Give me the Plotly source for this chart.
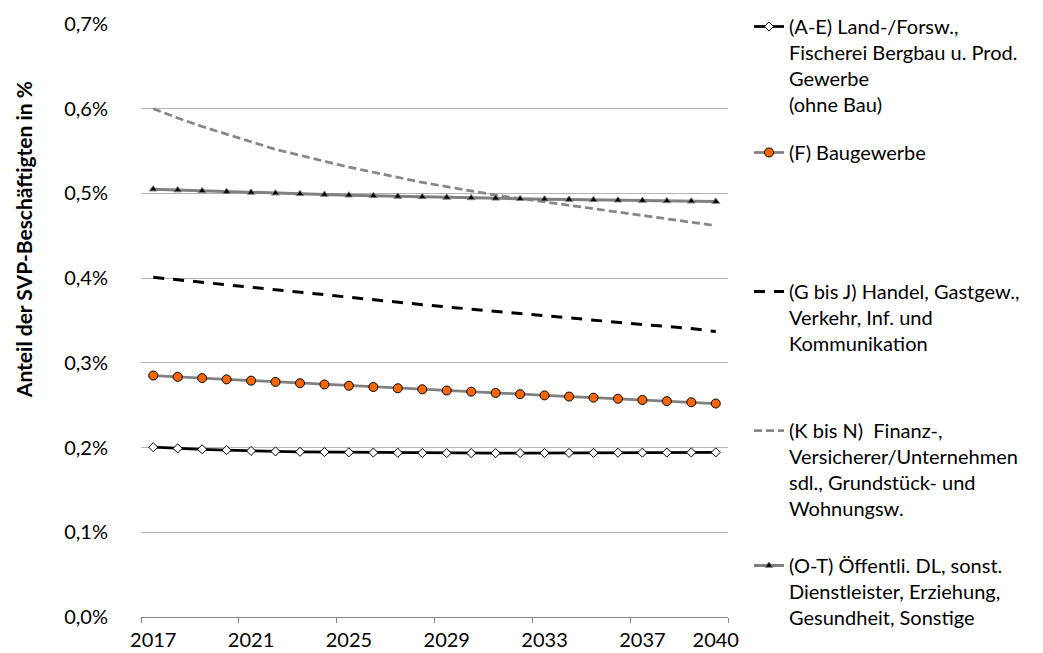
import plotly.graph_objects as go

# Jahre der Projektion
years = list(range(2017, 2041))

# Anteil der SVP-Beschäftigten in % je Wirtschaftsbereich
ae_land_prod = [0.2005, 0.1990, 0.1980, 0.1970, 0.1960, 0.1955, 0.1950, 0.1947,
                0.1944, 0.1941, 0.1938, 0.1936, 0.1935, 0.1935, 0.1935, 0.1935,
                0.1936, 0.1937, 0.1938, 0.1939, 0.1940, 0.1941, 0.1942, 0.1943]
f_bau = [0.2850, 0.2835, 0.2820, 0.2805, 0.2790, 0.2775, 0.2760, 0.2745,
         0.2730, 0.2715, 0.2700, 0.2688, 0.2674, 0.2660, 0.2645, 0.2630,
         0.2616, 0.2602, 0.2589, 0.2576, 0.2562, 0.2548, 0.2535, 0.2520]
gj_handel = [0.4010, 0.3980, 0.3950, 0.3920, 0.3890, 0.3860, 0.3830, 0.3800,
             0.3770, 0.3742, 0.3714, 0.3687, 0.3660, 0.3633, 0.3606, 0.3580,
             0.3554, 0.3528, 0.3503, 0.3478, 0.3453, 0.3429, 0.3405, 0.3370]
kn_finanz = [0.600, 0.589, 0.579, 0.570, 0.561, 0.552, 0.545, 0.538,
             0.531, 0.525, 0.519, 0.513, 0.508, 0.503, 0.498, 0.494,
             0.490, 0.486, 0.482, 0.478, 0.474, 0.470, 0.466, 0.462]
ot_oeffentl = [0.5050, 0.5040, 0.5030, 0.5021, 0.5012, 0.5003, 0.4995, 0.4987,
               0.4979, 0.4972, 0.4965, 0.4959, 0.4953, 0.4947, 0.4942, 0.4937,
               0.4932, 0.4928, 0.4924, 0.4920, 0.4916, 0.4912, 0.4908, 0.4904]

# Achsenbeschriftungen
x_tick_years = [2017, 2021, 2025, 2029, 2033, 2037, 2040]
x_tick_marks = [2016.5, 2020.5, 2024.5, 2028.5, 2032.5, 2036.5, 2040.5]
y_ticks = [0.0, 0.1, 0.2, 0.3, 0.4, 0.5, 0.6, 0.7]
y_tick_labels = ["0,0%", "0,1%", "0,2%", "0,3%", "0,4%", "0,5%", "0,6%", "0,7%"]

names = [
    "(A-E) Land-/Forsw.,<br>Fischerei Bergbau u. Prod.<br>Gewerbe<br>(ohne Bau)",
    "(F) Baugewerbe",
    "(G bis J) Handel, Gastgew.,<br>Verkehr, Inf. und<br>Kommunikation",
    "(K bis N) \u00a0Finanz-,<br>Versicherer/Unternehmen<br>sdl., Grundstück- und<br>Wohnungsw.",
    "(O-T) Öffentli. DL, sonst.<br>Dienstleister, Erziehung,<br>Gesundheit, Sonstige",
]

FONT = "Lato"
W, H = 1043, 653

fig = go.Figure()

fig.add_trace(go.Scatter(
    x=years, y=ae_land_prod, name=names[0], mode="lines+markers", legend="legend",
    line=dict(color="#000000", width=2.75),
    marker=dict(symbol="diamond", size=7, color="#ffffff", line=dict(color="#000000", width=1)),
))
fig.add_trace(go.Scatter(
    x=years, y=f_bau, name=names[1], mode="lines+markers", legend="legend2",
    line=dict(color="#808080", width=2.75),
    marker=dict(symbol="circle", size=9, color="#ff6600", line=dict(color="#000000", width=1)),
))
fig.add_trace(go.Scatter(
    x=years, y=gj_handel, name=names[2], mode="lines", legend="legend3",
    line=dict(color="#000000", width=3, dash="11px,9px"),
))
fig.add_trace(go.Scatter(
    x=years, y=kn_finanz, name=names[3], mode="lines", legend="legend4",
    line=dict(color="#878787", width=2.75, dash="8px,4px"),
))
fig.add_trace(go.Scatter(
    x=years, y=ot_oeffentl, name=names[4], mode="lines+markers", legend="legend5",
    line=dict(color="#808080", width=3),
    marker=dict(symbol="triangle-up", size=7, color="#000000", line=dict(color="#808080", width=1)),
))

# invisible trace carrying the category tick marks on the overlay axis
fig.add_trace(go.Scatter(x=[years[0]], y=[None], xaxis="x2", showlegend=False, hoverinfo="skip"))

def legend_at(top_px):
    return dict(
        xref="container", yref="container", x=749 / W, y=1 - top_px / H,
        xanchor="left", yanchor="top", valign="top",
        font=dict(family=FONT, size=20, color="#000000"),
        bgcolor="rgba(0,0,0,0)", borderwidth=0, itemwidth=30,
        tracegroupgap=0,
    )

fig.update_layout(
    width=W, height=H,
    margin=dict(l=141, r=W - 728, t=24, b=36, autoexpand=False),
    paper_bgcolor="#ffffff", plot_bgcolor="#ffffff",
    font=dict(family=FONT, size=20, color="#000000"),
    showlegend=True,
    legend=legend_at(7),
    legend2=legend_at(133),
    legend3=legend_at(272),
    legend4=legend_at(411),
    legend5=legend_at(546),
    xaxis=dict(
        range=[2016.5, 2040.5], tickmode="array", tickvals=x_tick_years,
        ticktext=[str(v) for v in x_tick_years], ticks="", showgrid=False,
        showline=True, linecolor="#868686", linewidth=1, zeroline=False,
        ticklabelstandoff=5, automargin=False,
        tickfont=dict(family=FONT, size=20, color="#000000"),
    ),
    xaxis2=dict(
        range=[2016.5, 2040.5], overlaying="x", anchor="y", side="bottom",
        tickmode="array", tickvals=x_tick_marks, ticks="outside", ticklen=5,
        tickcolor="#868686", tickwidth=1, showticklabels=False, showgrid=False,
        showline=False, zeroline=False, automargin=False,
    ),
    yaxis=dict(
        range=[0, 0.7], tickmode="array", tickvals=y_ticks, ticktext=y_tick_labels,
        showgrid=True, gridcolor="#b5b5b5", gridwidth=1, zeroline=False,
        showline=False, ticks="", ticklabelstandoff=32, automargin=False,
        tickfont=dict(family=FONT, size=20, color="#000000"),
    ),
    annotations=[dict(
        text="<b>Anteil der SVP-Beschäftigten in %</b>", textangle=-90,
        xref="paper", yref="paper", x=(23 - 141) / 587, y=(616.6 - 240) / 592.6,
        xanchor="center", yanchor="middle", showarrow=False,
        font=dict(family=FONT, size=21, color="#000000"),
    )],
)

fig.write_html("out.html")
